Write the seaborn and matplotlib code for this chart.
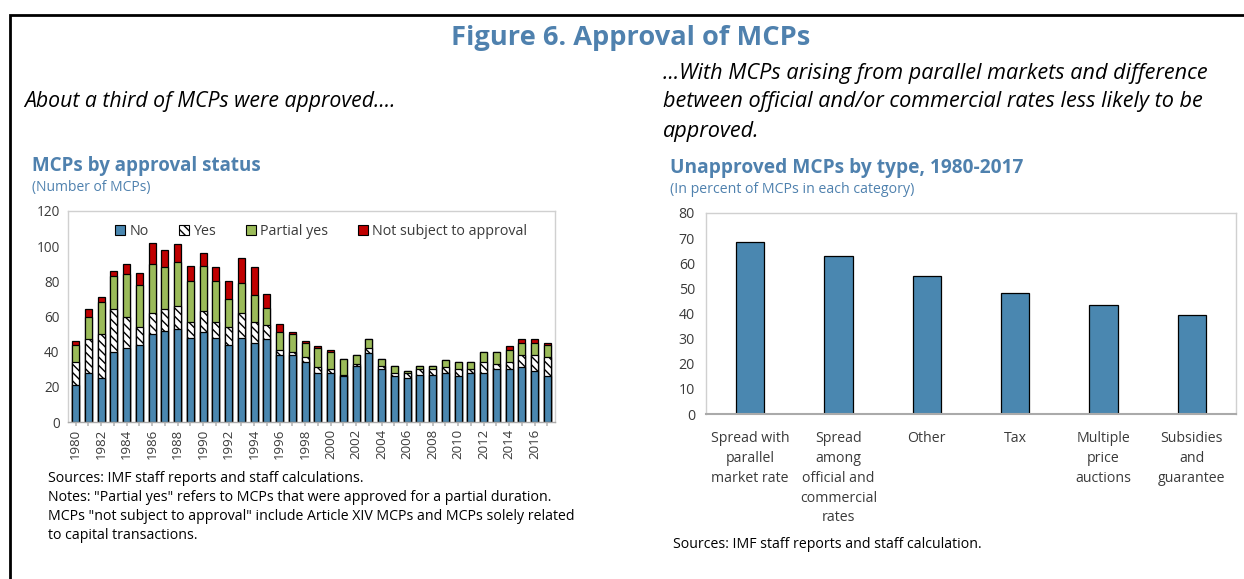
import numpy as np
import pandas as pd
import matplotlib
matplotlib.use("Agg")
import matplotlib.pyplot as plt
import seaborn as sns
from matplotlib.patches import Patch, Rectangle

sns.set_theme(style="white")
plt.rcParams['font.family'] = ['Open Sans', 'DejaVu Sans']

# ---- data: left panel (number of MCPs by approval status)
years = list(range(1980, 2018))
no_vals = [21, 28, 25, 40, 42, 44, 50, 52, 53, 48, 51, 48, 44, 48, 45, 47, 38, 38, 34, 28,
           28, 26, 32, 39, 30, 26, 25, 27, 27, 28, 26, 28, 28, 30, 30, 31, 29, 26]
yes_vals = [13, 19, 25, 24, 18, 10, 12, 12, 13, 9, 12, 9, 10, 14, 12, 8, 3, 2, 3, 3,
            2, 1, 1, 3, 2, 2, 3, 3, 3, 3, 4, 2, 6, 3, 4, 7, 9, 11]
partial_vals = [10, 13, 18, 19, 24, 24, 28, 24, 25, 23, 26, 23, 16, 17, 15, 10, 10, 10, 8, 11,
                10, 9, 5, 5, 4, 4, 1, 2, 2, 4, 4, 4, 6, 7, 7, 7, 7, 7]
nsa_vals = [2, 4, 3, 3, 6, 7, 12, 10, 10, 9, 7, 8, 10, 14, 16, 8, 5, 1, 1, 1,
            1, 0, 0, 0, 0, 0, 0, 0, 0, 0, 0, 0, 0, 0, 2, 2, 2, 1]

# ---- data: right panel (unapproved MCPs by type, %)
types = ["Spread with\nparallel\nmarket rate", "Spread\namong\nofficial and\ncommercial\nrates",
         "Other", "Tax", "Multiple\nprice\nauctions", "Subsidies\nand\nguarantee"]
unapproved_pct = [68.4, 62.7, 55.0, 48.0, 43.5, 39.3]

BLUE = "#4A87B0"
GREEN = "#9BBB59"
RED = "#C00000"
TITLE_BLUE = "#4F81AE"
TXT = "#3a3a3a"

W, H = 1244, 579
fig = plt.figure(figsize=(W / 100, H / 100), dpi=100)

def ax_px(x0, y0, x1, y1):
    return fig.add_axes([x0 / W, 1 - y1 / H, (x1 - x0) / W, (y1 - y0) / H])

# outer frame
fig.patches.append(Rectangle((10 / W, -0.05), 1.2, 1 - 15 / H + 0.05, transform=fig.transFigure,
                             fill=False, edgecolor="black", linewidth=2))

fig.text(631 / W, 1 - 38 / H, "Figure 6. Approval of MCPs", ha="center", va="center",
         fontsize=19.6, fontweight="bold", color=TITLE_BLUE)
fig.text(24 / W, 1 - 102 / H, "About a third of MCPs were approved....", ha="left", va="center",
         fontsize=15.3, style="italic", color="black")
for i, line in enumerate(["...With MCPs arising from parallel markets and difference",
                          "between official and/or commercial rates less likely to be",
                          "approved."]):
    fig.text(663 / W, 1 - (73 + 29 * i) / H, line, ha="left", va="center",
             fontsize=15.6, style="italic", color="black")

fig.text(32 / W, 1 - 166 / H, "MCPs by approval status", ha="left", va="center",
         fontsize=13.5, fontweight="bold", color=TITLE_BLUE)
fig.text(32 / W, 1 - 187 / H, "(Number of MCPs)", ha="left", va="center",
         fontsize=10, color=TITLE_BLUE)
fig.text(670 / W, 1 - 168 / H, "Unapproved MCPs by type, 1980-2017", ha="left", va="center",
         fontsize=13.8, fontweight="bold", color=TITLE_BLUE)
fig.text(670 / W, 1 - 189 / H, "(In percent of MCPs in each category)", ha="left", va="center",
         fontsize=10.2, color=TITLE_BLUE)

notes = ['Sources: IMF staff reports and staff calculations.',
         'Notes: "Partial yes" refers to MCPs that were approved for a partial duration.',
         'MCPs "not subject to approval" include Article XIV MCPs and MCPs solely related',
         'to capital transactions.']
for i, line in enumerate(notes):
    fig.text(48 / W, 1 - (478 + 19.3 * i) / H, line, ha="left", va="center", fontsize=10.2, color="black")
fig.text(673 / W, 1 - 545 / H, "Sources: IMF staff reports and staff calculation.", ha="left",
         va="center", fontsize=10.2, color="black")

# ---- left panel: stacked bars drawn as overlapping cumulative totals
df = pd.DataFrame({"year": [str(y) for y in years], "no": no_vals, "yes": yes_vals,
                   "partial": partial_vals, "nsa": nsa_vals})
df["c_yes"] = df["no"] + df["yes"]
df["c_partial"] = df["c_yes"] + df["partial"]
df["c_nsa"] = df["c_partial"] + df["nsa"]

ax1 = ax_px(68, 211, 555, 422)
order = df["year"].tolist()
bw = 0.55
sns.barplot(data=df, x="year", y="c_nsa", order=order, color=RED, saturation=1, width=bw,
            edgecolor="black", linewidth=0.9, ax=ax1)
sns.barplot(data=df, x="year", y="c_partial", order=order, color=GREEN, saturation=1, width=bw,
            edgecolor="black", linewidth=0.9, ax=ax1)
sns.barplot(data=df, x="year", y="c_yes", order=order, color="white", saturation=1, width=bw,
            edgecolor="black", linewidth=0.9, hatch="\\\\\\\\", ax=ax1)
sns.barplot(data=df, x="year", y="no", order=order, color=BLUE, saturation=1, width=bw,
            edgecolor="black", linewidth=0.9, ax=ax1)

ax1.set_ylim(0, 120)
ax1.set_yticks(range(0, 121, 20))
ax1.set_xlim(-0.6, len(years) - 0.4)
ax1.set_xticks(range(len(years)))
ax1.set_xticklabels([y if i % 2 == 0 else "" for i, y in enumerate(order)], rotation=90)
ax1.set_xlabel("")
ax1.set_ylabel("")
ax1.tick_params(axis="x", length=3, color="#bbbbbb", labelsize=9.5, labelcolor=TXT, pad=2, bottom=True)
ax1.tick_params(axis="y", length=0, labelsize=9.8, labelcolor=TXT, pad=6)
for s in ax1.spines.values():
    s.set_color("#d0d0d0")
    s.set_linewidth(1)
ax1.spines["bottom"].set_color("#aaaaaa")

handles = [Patch(facecolor=BLUE, edgecolor="black", linewidth=0.8),
           Patch(facecolor="white", edgecolor="black", linewidth=0.8, hatch="\\\\\\\\"),
           Patch(facecolor=GREEN, edgecolor="black", linewidth=0.8),
           Patch(facecolor=RED, edgecolor="black", linewidth=0.8)]
ax1.legend(handles, ["No", "Yes", "Partial yes", "Not subject to approval"], ncol=4,
           loc="upper center", bbox_to_anchor=(0.52, 1.0), frameon=False, fontsize=10.3,
           handlelength=0.7, handleheight=0.7, handletextpad=0.3, columnspacing=2.1,
           labelcolor=TXT)

# ---- right panel
rdf = pd.DataFrame({"type": types, "pct": unapproved_pct})
ax2 = ax_px(706, 213, 1236, 414)
sns.barplot(data=rdf, x="type", y="pct", order=types, color=BLUE, saturation=1, width=0.32,
            edgecolor="black", linewidth=0.9, ax=ax2)
ax2.set_ylim(0, 80)
ax2.set_yticks(range(0, 81, 10))
ax2.set_xlim(-0.5, len(types) - 0.5)
ax2.set_xlabel("")
ax2.set_ylabel("")
ax2.tick_params(axis="x", length=0, labelsize=10.2, labelcolor=TXT, pad=12)
ax2.tick_params(axis="y", length=0, labelsize=10.2, labelcolor=TXT, pad=8)
for lbl in ax2.get_xticklabels():
    lbl.set_linespacing(1.45)
for s in ax2.spines.values():
    s.set_color("#d0d0d0")
    s.set_linewidth(1)
ax2.spines["bottom"].set_color("#aaaaaa")
ax2.spines["bottom"].set_linewidth(1.5)

fig.savefig("out.png", dpi=100)
